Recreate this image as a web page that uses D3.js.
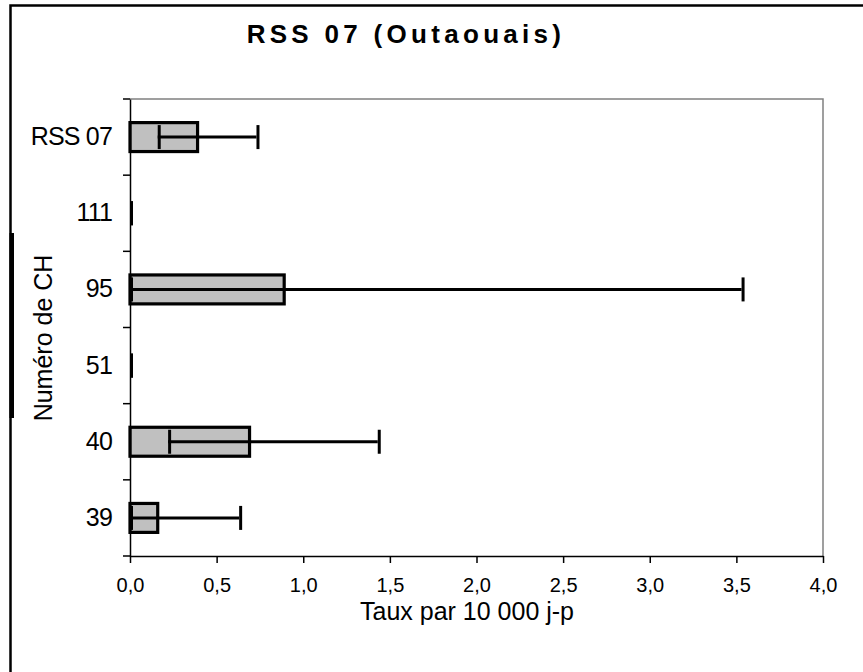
<!DOCTYPE html>
<html><head><meta charset="utf-8">
<script src="https://cdn.jsdelivr.net/npm/d3@7"></script>
<style>
html,body{margin:0;padding:0;background:#fff;}
text{font-family:"Liberation Sans",Arial,sans-serif;fill:#000;}
</style></head>
<body>
<svg id="chart" width="863" height="672"></svg>
<script>
const categories = ["RSS 07", "111", "95", "51", "40", "39"];
const rates = [0.39, 0, 0.89, 0, 0.69, 0.16];
const lowerCI = [0.16, 0, 0, 0, 0.22, 0];
const upperCI = [0.73, 0, 3.53, 0, 1.43, 0.63];
const xTicks = [0, 0.5, 1, 1.5, 2, 2.5, 3, 3.5, 4];
const titleText = "RSS 07 (Outaouais)";
const xTitle = "Taux par 10 000 j-p";
const yTitle = "Numéro de CH";

(function () {
const svg = d3.select("#chart");
const pL = 130, pR = 823, pT = 99, pB = 556;

// outer frame
svg.append("rect").attr("x", 10.5).attr("y", 5.5).attr("width", 870).attr("height", 700)
  .attr("fill", "none").attr("stroke", "#000").attr("stroke-width", 2.5);
svg.append("rect").attr("x", 9.5).attr("y", 233).attr("width", 4.5).attr("height", 185).attr("fill", "#000");

const x = d3.scaleLinear().domain([0, 4]).range([pL, pR]);
const y = d3.scaleBand().domain(categories).range([pT, pB]).padding(0);
const bw = y.bandwidth();

// plot area border (top/right gray)
svg.append("path")
  .attr("d", `M${pL},${pT}H${pR}V${pB}`)
  .attr("fill", "none").attr("stroke", "#808080").attr("stroke-width", 1.5);

// bars
const rows = categories.map((c, i) => ({c, v: rates[i], lo: lowerCI[i], hi: upperCI[i]}));
svg.append("g").selectAll("rect").data(rows.filter(d => d.v > 0)).join("rect")
  .attr("x", x(0))
  .attr("y", d => y(d.c) + bw * 0.31)
  .attr("width", d => x(d.v) - x(0))
  .attr("height", bw * 0.38)
  .attr("fill", "#c0c0c0").attr("stroke", "#000").attr("stroke-width", 3.2);

// error bars
const eg = svg.append("g").attr("stroke", "#000").attr("stroke-width", 3);
rows.forEach(d => {
  const cy = y(d.c) + bw / 2;
  eg.append("line").attr("x1", x(d.lo)).attr("x2", x(d.hi)).attr("y1", cy).attr("y2", cy);
  [d.lo, d.hi].forEach(v => {
    eg.append("line").attr("x1", x(v) + 1.5).attr("x2", x(v) + 1.5)
      .attr("y1", cy - 12).attr("y2", cy + 12);
  });
});

// x axis
const xAxis = d3.axisBottom(x).tickValues(xTicks).tickSizeInner(7).tickSizeOuter(0).tickPadding(15)
  .tickFormat(d => d.toFixed(1).replace(".", ","));
const gx = svg.append("g").attr("transform", `translate(0,${pB})`).call(xAxis);
gx.selectAll("text").attr("font-size", 20).attr("font-family", "Liberation Sans, Arial, sans-serif");
gx.selectAll("line,path").attr("stroke", "#000").attr("stroke-width", 1.5);

// y axis
const yAxis = d3.axisLeft(y).tickSizeInner(0).tickSizeOuter(0).tickPadding(18);
const gy = svg.append("g").attr("transform", `translate(${pL},0)`).call(yAxis);
gy.selectAll("text").attr("font-size", 25).attr("font-family", "Liberation Sans, Arial, sans-serif")
  .attr("letter-spacing", -0.8);
gy.selectAll("path").attr("stroke", "#000").attr("stroke-width", 1.5);
const bounds = categories.map(c => y(c)).concat([pB]);
svg.append("g").selectAll("line").data(bounds).join("line")
  .attr("x1", pL - 7).attr("x2", pL).attr("y1", d => d).attr("y2", d => d)
  .attr("stroke", "#000").attr("stroke-width", 1.5);

// titles
svg.append("text").attr("x", 406).attr("y", 43).attr("text-anchor", "middle")
  .attr("font-size", 26).attr("font-weight", "bold").attr("letter-spacing", 4.3)
  .text(titleText);
svg.append("text").attr("x", 467).attr("y", 620).attr("text-anchor", "middle")
  .attr("font-size", 25).text(xTitle);
svg.append("text").attr("transform", "translate(52,338) rotate(-90)").attr("text-anchor", "middle")
  .attr("font-size", 25).text(yTitle);
})();
</script>
</body></html>
